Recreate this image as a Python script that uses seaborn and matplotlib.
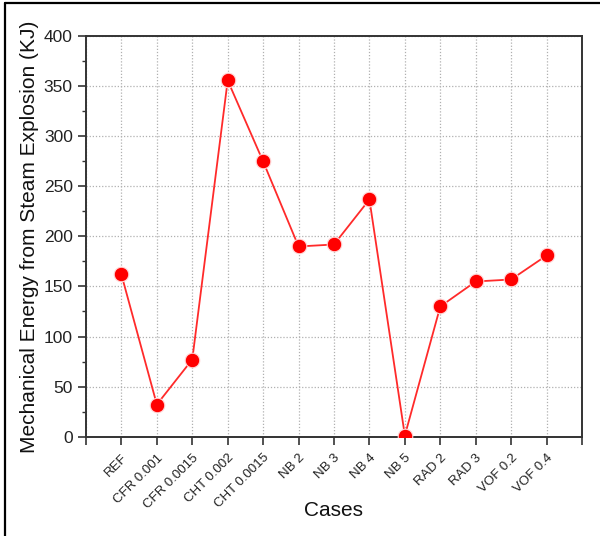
import numpy as np
import pandas as pd
import matplotlib
matplotlib.use("Agg")
import matplotlib.pyplot as plt
from matplotlib.ticker import MultipleLocator
from matplotlib.lines import Line2D
import seaborn as sns

cases = ["REF", "CFR 0.001", "CFR 0.0015", "CHT 0.002", "CHT 0.0015",
         "NB 2", "NB 3", "NB 4", "NB 5", "RAD 2", "RAD 3", "VOF 0.2", "VOF 0.4"]
energy = [162, 32, 77, 356, 275, 190, 192, 237, 1, 130, 155, 157, 181]

sns.set_theme(style="ticks")
plt.rcParams["font.family"] = ["Liberation Sans", "DejaVu Sans"]

df = pd.DataFrame({"pos": np.arange(1, len(cases) + 1), "energy": energy})

fig = plt.figure(figsize=(6.0, 5.36), dpi=100)
ax = fig.add_axes([0.1433, 0.1856, 0.8267, 0.7464])

sns.lineplot(data=df, x="pos", y="energy", ax=ax, color="#ff2a2a",
             linewidth=1.3, marker="o", markersize=10.5,
             markerfacecolor="#ff0000", markeredgecolor="#ffd6d6",
             markeredgewidth=0.8, zorder=3)

ax.set_xlim(0, len(cases) + 1)
ax.set_ylim(0, 400)
ax.set_xticks(np.arange(0, len(cases) + 2))
ax.set_xticklabels([""] + cases + [""], rotation=45, ha="right",
                   rotation_mode="anchor", fontsize=9.5, color="#222222")
ax.yaxis.set_major_locator(MultipleLocator(50))
ax.yaxis.set_minor_locator(MultipleLocator(25))
ax.tick_params(axis="y", which="major", direction="out", length=6, width=1.2,
               labelsize=12.5, colors="#333333", labelcolor="#222222")
ax.tick_params(axis="y", which="minor", direction="out", length=3, width=1.0,
               colors="#333333")
ax.tick_params(axis="x", which="major", direction="out", length=6, width=1.2,
               colors="#333333", labelcolor="#222222", pad=5)

ax.grid(True, which="major", linestyle=(0, (1, 1.5)), color="#b0b0b0",
        linewidth=0.9)
for sp in ax.spines.values():
    sp.set_visible(True)
    sp.set_linewidth(1.4)
    sp.set_color("#333333")

ax.set_xlabel("Cases", fontsize=15, color="#111111")
ax.set_ylabel("Mechanical Energy from Steam Explosion (KJ)", fontsize=15,
              color="#111111")
ax.xaxis.label.set_verticalalignment("center")
ax.yaxis.label.set_verticalalignment("center")
ax.xaxis.set_label_coords(0.5, -0.184)
ax.yaxis.set_label_coords(-0.113, 0.5)

# frame along the top and left edges of the figure
fig.add_artist(Line2D([0.009, 1.0], [0.994, 0.994], transform=fig.transFigure,
                      color="black", linewidth=1.6))
fig.add_artist(Line2D([0.009, 0.009], [0.0, 0.994], transform=fig.transFigure,
                      color="black", linewidth=1.6))

fig.savefig("out.png", dpi=100)
